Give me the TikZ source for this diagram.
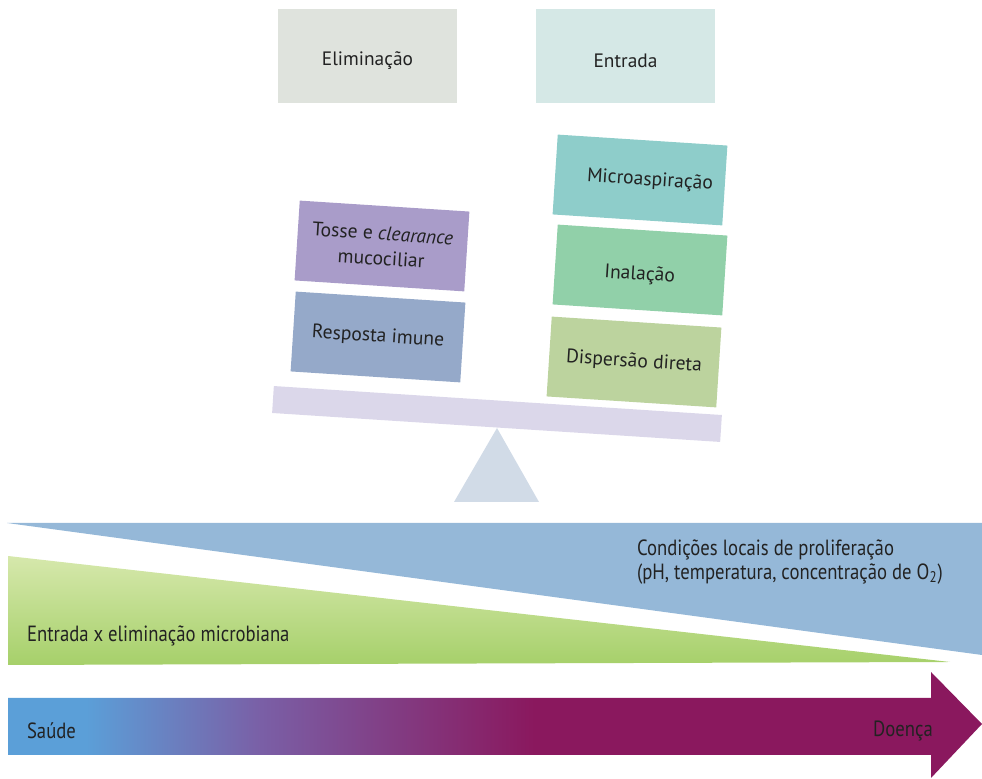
\documentclass[tikz,border=0pt]{standalone}
\usepackage{fontspec}
\setmainfont{PT Sans}
\newfontfamily\condfont[FakeStretch=0.85]{PT Sans}
\definecolor{elimcol}{HTML}{DFE3DD}
\definecolor{entrcol}{HTML}{D5E8E6}
\definecolor{tossecol}{HTML}{A99CC9}
\definecolor{imunecol}{HTML}{95A9C9}
\definecolor{microcol}{HTML}{8ECDCA}
\definecolor{inalcol}{HTML}{91D0A9}
\definecolor{dispcol}{HTML}{BCD39E}
\definecolor{beamcol}{HTML}{DBD7EA}
\definecolor{pivotcol}{HTML}{D1DBE7}
\definecolor{bluecol}{HTML}{95B8D8}
\definecolor{greenlt}{HTML}{D6E8AC}
\definecolor{greendk}{HTML}{A6D06A}
\definecolor{arrblue}{HTML}{5B9FD8}
\definecolor{arrpurple}{HTML}{7A5FA6}
\definecolor{arrmag}{HTML}{8A185E}
\definecolor{txtcol}{HTML}{222222}
\pgfdeclarehorizontalshading{healthshade}{100bp}{color(0bp)=(arrblue); color(29bp)=(arrblue); color(38bp)=(arrpurple); color(52bp)=(arrmag); color(100bp)=(arrmag)}
\newcommand{\lowertext}[1]{\raisebox{-2.5pt}[\height][\depth]{#1}}
\tikzset{
  topbox/.style={rectangle,inner sep=0pt,minimum width=89.5pt,minimum height=47pt,font=\fontsize{9.7}{11}\selectfont},
  weightbox/.style={rectangle,inner sep=0pt,minimum width=85pt,minimum height=40pt,rotate=-3.7,align=center,font=\fontsize{9.8}{12.5}\selectfont},
  bandlabel/.style={anchor=west,align=left,font=\condfont\fontsize{11}{12}\selectfont}
}
\begin{document}
\begin{tikzpicture}[x=0.5pt,y=-0.5pt,every node/.style={text=txtcol}]
\useasboundingbox (0,0) rectangle (982,779);
% top headings
\node[topbox,fill=elimcol] (elim) at (367.5,56) {\lowertext{Eliminação}};
\node[topbox,fill=entrcol] (entr) at (625.5,56) {\lowertext{Entrada}};
% the scale
\fill[pivotcol] (497,428) -- (539,502) -- (454,502) -- cycle;
\node[rectangle,fill=beamcol,inner sep=0pt,minimum width=224.5pt,minimum height=13.5pt,rotate=-3.7] (beam) at (497,414) {};
\node[weightbox,fill=tossecol] (tosse) at (382,246) {Tosse e \textit{clearance}\\mucociliar};
\node[weightbox,fill=imunecol] (imune) at (378,337) {Resposta imune};
\node[weightbox,fill=microcol] (micro) at (640,180) {\hspace{10pt}Microaspiração};
\node[weightbox,fill=inalcol] (inal) at (640,270) {\lowertext{Inalação}};
\node[weightbox,fill=dispcol] (disp) at (634,362) {Dispersão direta};
% bands
\fill[bluecol] (7,523) -- (982,523) -- (982,655) -- cycle;
\shade[top color=greenlt,bottom color=greendk] (8,556) -- (950,662) -- (8,665) -- cycle;
\shade[shading=healthshade] (8,698) -- (931,698) -- (931,672) -- (982,724) -- (931,778) -- (931,755) -- (8,755) -- cycle;
\node[bandlabel] (cond) at (630,562) {Condições locais de proliferação\\(pH, temperatura, concentração de O\textsubscript{2})};
\node[bandlabel] (entel) at (20,636) {Entrada x eliminação microbiana};
\node[bandlabel] (saude) at (20,731) {Saúde};
\node[bandlabel,anchor=east] (doenca) at (940,731) {Doença};
\end{tikzpicture}
\end{document}
